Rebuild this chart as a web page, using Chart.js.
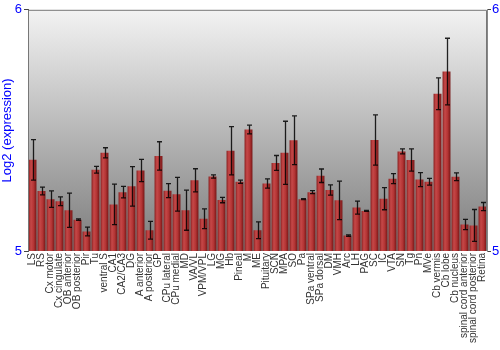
<!DOCTYPE html>
<html>
<head>
<meta charset="utf-8">
<script src="https://cdn.jsdelivr.net/npm/chart.js@4"></script>
<style>
  html, body { margin: 0; padding: 0; background: #fff; }
  #wrap { width: 500px; height: 350px; }
</style>
</head>
<body>
<div id="wrap"><canvas id="chart" width="500" height="350"></canvas></div>
<script>
// ---------------------------------------------------------------------------
// Data: log2 expression per region, with +/- error
// ---------------------------------------------------------------------------

const REGIONS = [
  "LS", "RS", "Cx motor", "Cx cingulate", "OB anterior", "OB posterior", "Pir", "Tu",
  "ventral S", "CA1", "CA2/CA3", "DG", "A anterior", "A posterior", "GP", "CPu lateral",
  "CPu medial", "MD", "VA/VL", "VPM/VPL", "LG", "MG", "Hb", "Pineal", "M", "ME",
  "Pituitary", "SCN", "MPA", "SO", "Pa", "SPa ventral", "SPa dorsal", "DM", "VMH", "Arc",
  "LH", "PAG", "SC", "IC", "VTA", "SN", "Tg", "Pn", "MVe", "Cb vermis", "Cb lobe",
  "Cb nucleus", "spinal cord anterior", "spinal cord posterior", "Retina",
];

const EXPRESSION = [
  5.378, 5.249, 5.215, 5.206, 5.169, 5.130, 5.081, 5.337,
  5.407, 5.193, 5.244, 5.268, 5.334, 5.086, 5.394, 5.250,
  5.235, 5.169, 5.293, 5.134, 5.309, 5.211, 5.416, 5.287, 5.504, 5.086,
  5.280, 5.365, 5.407, 5.459, 5.215, 5.244, 5.312, 5.253, 5.210, 5.064,
  5.180, 5.166, 5.460, 5.217, 5.300, 5.413, 5.377, 5.296, 5.287, 5.652, 5.744,
  5.308, 5.110, 5.106, 5.184,
];

const ERRORS = [
  0.084, 0.016, 0.034, 0.018, 0.071, 0.003, 0.018, 0.014,
  0.021, 0.084, 0.024, 0.082, 0.046, 0.037, 0.059, 0.029,
  0.070, 0.083, 0.048, 0.041, 0.007, 0.011, 0.100, 0.007, 0.018, 0.035,
  0.019, 0.031, 0.131, 0.101, 0.002, 0.006, 0.028, 0.021, 0.080, 0.003,
  0.027, 0.002, 0.104, 0.046, 0.021, 0.010, 0.046, 0.029, 0.014, 0.066, 0.138,
  0.016, 0.021, 0.066, 0.017,
];

const Y_MIN = 5;
const Y_MAX = 6;

const BLUE = "#0000ff";

// ---------------------------------------------------------------------------
// Plugins: gray gradient plot background, shaded bars, error bars, frame
// ---------------------------------------------------------------------------

const backgroundPlugin = {
  id: "plotBackground",
  beforeDraw(chart) {
    const { ctx, chartArea: a } = chart;
    const g = ctx.createLinearGradient(0, a.top, 0, a.bottom);
    g.addColorStop(0, "#f3f3f3");
    g.addColorStop(1, "#7c7c7c");
    ctx.save();
    ctx.fillStyle = g;
    ctx.fillRect(a.left, a.top, a.right - a.left, a.bottom - a.top);
    ctx.restore();
  },
};

// give every bar a horizontal "cylinder" shading, based on its own x and width
const barShadePlugin = {
  id: "barShade",
  beforeDatasetsDraw(chart) {
    const { ctx } = chart;
    chart.getDatasetMeta(0).data.forEach(bar => {
      const left = bar.x - bar.width / 2;
      const g = ctx.createLinearGradient(left, 0, left + bar.width, 0);
      g.addColorStop(0, "#8a2020");
      g.addColorStop(0.3, "#c64848");
      g.addColorStop(0.65, "#b33434");
      g.addColorStop(1, "#761616");
      bar.options.backgroundColor = g;
    });
  },
};

const errorBarPlugin = {
  id: "errorBars",
  afterDatasetsDraw(chart) {
    const { ctx } = chart;
    const y = chart.scales.y;
    ctx.save();
    ctx.strokeStyle = "rgba(0,0,0,0.85)";
    ctx.lineWidth = 1.3;
    chart.getDatasetMeta(0).data.forEach((bar, i) => {
      const hi = y.getPixelForValue(EXPRESSION[i] + ERRORS[i]);
      const lo = y.getPixelForValue(EXPRESSION[i] - ERRORS[i]);
      const x = Math.round(bar.x) + 0.5;
      ctx.beginPath();
      ctx.moveTo(x, hi);
      ctx.lineTo(x, lo);
      ctx.moveTo(x - 2.5, hi);
      ctx.lineTo(x + 2.5, hi);
      ctx.moveTo(x - 2.5, lo);
      ctx.lineTo(x + 2.5, lo);
      ctx.stroke();
    });
    ctx.restore();
  },
};

const framePlugin = {
  id: "frame",
  afterDraw(chart) {
    const { ctx, chartArea: a } = chart;
    ctx.save();
    ctx.strokeStyle = "#777";
    ctx.lineWidth = 1;
    ctx.beginPath();
    ctx.moveTo(a.left + 0.5, a.bottom);
    ctx.lineTo(a.left + 0.5, a.top + 0.5);
    ctx.lineTo(a.right - 0.5, a.top + 0.5);
    ctx.lineTo(a.right - 0.5, a.bottom);
    ctx.stroke();
    ctx.restore();
  },
};

// ---------------------------------------------------------------------------
// Chart
// ---------------------------------------------------------------------------

Chart.defaults.font.family = "'Liberation Sans', Arial, sans-serif";

new Chart(document.getElementById("chart"), {
  type: "bar",
  data: {
    labels: REGIONS,
    datasets: [{
      data: EXPRESSION,
      backgroundColor: () => "#b03030",
      borderWidth: 0,
      categoryPercentage: 1,
      barPercentage: 0.88,
    }],
  },
  options: {
    responsive: false,
    animation: false,
    layout: { padding: { top: 9, left: 0, right: 0, bottom: 0 } },
    plugins: { legend: { display: false }, tooltip: { enabled: false } },
    scales: {
      x: {
        grid: { display: false, drawTicks: false },
        border: { display: false },
        ticks: {
          autoSkip: false, minRotation: 90, maxRotation: 90, padding: 2,
          color: "#333", font: { size: 10 },
        },
        afterFit(scale) { scale.height = 99; },
      },
      y: {
        position: "left",
        min: Y_MIN, max: Y_MAX,
        ticks: { stepSize: 1, color: BLUE, font: { size: 13 }, padding: 2 },
        grid: { drawOnChartArea: false, tickLength: 4, color: "#444" },
        border: { color: "#555" },
        title: { display: true, text: "Log2 (expression)", color: BLUE, font: { size: 13 }, padding: 0 },
        afterFit(scale) { scale.width = 28; },
      },
      y2: {
        position: "right",
        min: Y_MIN, max: Y_MAX,
        ticks: { stepSize: 1, color: BLUE, font: { size: 13 }, padding: 1 },
        grid: { drawOnChartArea: false, tickLength: 4, color: "#444" },
        border: { color: "#888" },
        afterFit(scale) { scale.width = 13; },
      },
    },
  },
  plugins: [backgroundPlugin, barShadePlugin, errorBarPlugin, framePlugin],
});
</script>
</body>
</html>
